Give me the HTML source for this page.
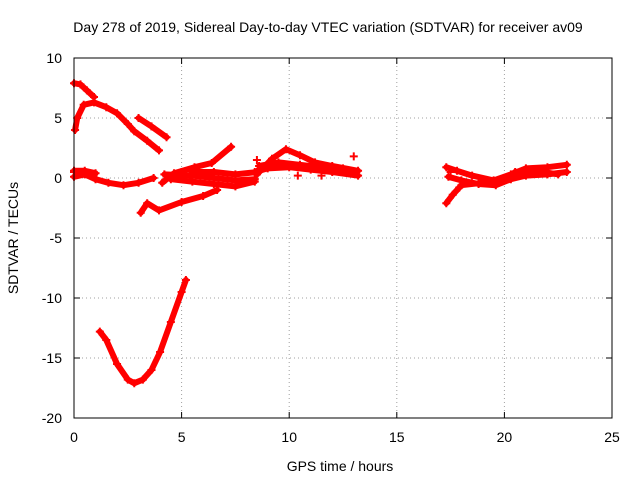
<!DOCTYPE html>
<html><head><meta charset="utf-8"><style>
body{margin:0;background:#fff}
svg text{font-family:"Liberation Sans",sans-serif;font-size:14px;fill:#000}
</style></head><body>
<svg id="chart" width="640" height="480" viewBox="0 0 640 480" xmlns="http://www.w3.org/2000/svg">
<rect width="640" height="480" fill="#fff"/>
<text x="328" y="32" text-anchor="middle">Day 278 of 2019, Sidereal Day-to-day VTEC variation (SDTVAR) for receiver av09</text>
<g id="grid"></g>
<g id="ticks"></g>
<g id="series"></g>
<rect x="74" y="58" width="538" height="360" fill="none" stroke="#000" stroke-width="1"/>
<text x="340" y="471" text-anchor="middle">GPS time / hours</text>
<text x="18" y="238" text-anchor="middle" transform="rotate(-90 18 238)">SDTVAR / TECUs</text>
</svg>
<script>
const xTicks=[0,5,10,15,20,25];
const yTicks=[10,5,0,-5,-10,-15,-20];
const track1=[[0,7.9],[0.3,7.8],[0.6,7.3],[0.93,6.75]];
const track2=[[0.05,4.0],[0.15,5.0],[0.45,6.1],[0.93,6.3],[1.5,5.9],[2.0,5.4],[2.5,4.5],[2.8,3.9],[3.4,3.1],[3.95,2.3]];
const track3=[[3.0,5.0],[3.6,4.3],[4.3,3.4]];
const track4=[[0,0.1],[0.5,0.3],[1,-0.1],[1.6,-0.4],[2.3,-0.6],[3,-0.4],[3.7,0]];
const track4b=[[0,0.6],[0.5,0.6],[1,0.4],[0.9,0.1]];
const track5=[[4.1,-0.4],[4.65,0.4],[5.6,0.9],[6.4,1.25],[7.3,2.6]];
const track6=[[3.1,-2.9],[3.4,-2.1],[3.95,-2.7],[5.0,-2.0],[6.0,-1.5],[6.65,-1.0]];
const track7=[[4.2,0.3],[5.5,0.2],[6.5,0],[7.5,-0.2],[8.4,-0.1]];
const track7b=[[4.5,-0.1],[5.5,-0.3],[6.5,-0.5],[7.5,-0.7],[8.4,-0.3]];
const track7c=[[5.5,0.5],[6.5,0.5],[7.5,0.3],[8.5,0.5]];
const track8=[[8.5,0.3],[9.2,1.6],[9.85,2.4],[10.5,1.9],[11.2,1.3],[12,1.0],[13.2,0.6]];
const track8b=[[8.4,0.5],[9,0.8],[10,0.9],[11,0.7],[12,0.5],[13.2,0.2]];
const track8c=[[8.6,1.0],[9.5,1.3],[10.5,1.1],[11.5,0.9],[12.5,0.8]];
const track9=[[1.2,-12.8],[1.5,-13.5],[2,-15.5],[2.5,-16.8],[2.8,-17.1],[3.2,-16.8],[3.6,-16],[4,-14.5],[4.5,-12],[5,-9.5],[5.2,-8.5]];
const track10=[[17.3,-2.1],[17.6,-1.4],[17.9,-0.8]];
const track11=[[17.3,0.9],[17.8,0.6],[18.5,0.2],[19.5,-0.2],[20.3,0.3],[21,0.8],[22,0.9],[22.9,1.1]];
const track12=[[17.4,0.1],[18,-0.2],[18.8,-0.5],[19.6,-0.6],[20.3,-0.1],[21,0.2],[22,0.3],[22.9,0.5]];
const track13=[[18,-0.6],[19,-0.4],[20,-0.2],[20.5,0.5],[21.5,0.6],[22.5,0.3]];
const trackExtra=[[0,0.5],[5,0.5],[8.5,1.5],[10.4,0.2],[11.5,0.2],[13,1.8],[17.5,0.5]];
const allTracks=[track1,track2,track3,track4,track4b,track5,track6,track7,track7b,track7c,track8,track8b,track8c,track9,track10,track11,track12,track13];
const NS="http://www.w3.org/2000/svg";
const sx=v=>74+v*(538/25);
const sy=v=>178-v*12;
const grid=document.getElementById('grid'),ticks=document.getElementById('ticks'),ser=document.getElementById('series');
function mk(t,a,p){const e=document.createElementNS(NS,t);for(const k in a)e.setAttribute(k,a[k]);p.appendChild(e);return e;}
xTicks.forEach(v=>{const x=sx(v);
 if(v>0&&v<25){const g=mk('line',{x1:x,y1:58,x2:x,y2:418,stroke:'#a0a0a0','stroke-dasharray':'1,3'},grid);
 
 }
 mk('line',{x1:x,y1:418,x2:x,y2:412,stroke:'#000'},ticks);mk('line',{x1:x,y1:58,x2:x,y2:64,stroke:'#000'},ticks);
 const t=mk('text',{x:x,y:442,'text-anchor':'middle'},ticks);t.textContent=v;
 
 });
yTicks.forEach(v=>{const y=sy(v);
 if(v>-20&&v<10){const g=mk('line',{x1:74,y1:y,x2:612,y2:y,stroke:'#a0a0a0','stroke-dasharray':'1,3'},grid);
 
 }
 mk('line',{x1:74,y1:y,x2:80,y2:y,stroke:'#000'},ticks);mk('line',{x1:612,y1:y,x2:606,y2:y,stroke:'#000'},ticks);
 const t=mk('text',{x:62,y:y+5,'text-anchor':'end'},ticks);t.textContent=v;
 
 });
allTracks.forEach(tr=>{
 const p=mk('polyline',{points:tr.map(d=>sx(d[0])+','+sy(d[1])).join(' '),fill:'none',stroke:'#f00','stroke-width':6,'stroke-linejoin':'round','stroke-linecap':'round'},ser);
 
 });
allTracks.concat([trackExtra]).forEach(tr=>tr.forEach(d=>{
 const x=sx(d[0]),y=sy(d[1]);
 const m=mk('path',{d:`M${x-4},${y}H${x+4}M${x},${y-4}V${y+4}`,stroke:'#f00','stroke-width':2},ser);
 
 }));
</script>
</body></html>
